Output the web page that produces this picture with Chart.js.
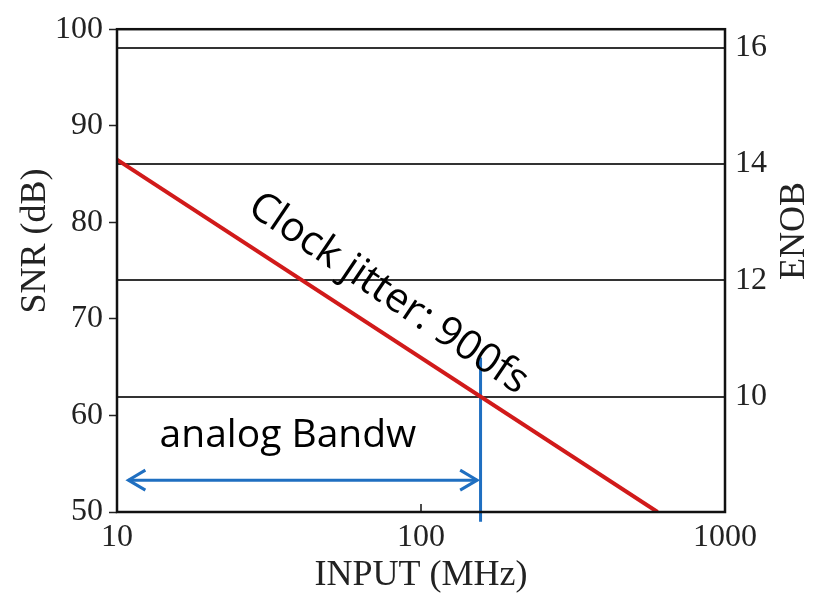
<!DOCTYPE html>
<html>
<head>
<meta charset="utf-8">
<script src="https://cdn.jsdelivr.net/npm/chart.js@4"></script>
<style>
  html, body { margin: 0; padding: 0; background: #fff; }
  #wrap { width: 822px; height: 596px; }
</style>
</head>
<body>
<div id="wrap"><canvas id="jitterChart"></canvas></div>
<script>
// jitter-limited SNR vs input frequency
let inputMHz = [10, 600];
let snrJitter = [86.5, 50];

// analog bandwidth marker
let bwMHz = 157;
let bwSnr = [66, 49];
let arrowMHz = [10.9, 153];
let arrowSnr = 53.3;

// tick labels
let freqTicks = [10, 100, 1000];
let snrTicks = [50, 60, 70, 80, 90, 100];
let enobTicks = [10, 12, 14, 16];

// text annotations (anchored in data units)
let jitterLabel = { text: "Clock jitter: 900fs", x: 78, y: 72.6 };
let bwLabel = { text: "analog Bandw", x: 36.5, y: 57.9 };

// ENOB = (SNR - 1.76) / 6.02
let snrMin = 50, snrMax = 100;
let enobOf = function (snr) { return (snr - 1.76) / 6.02; };

let serif = "'Liberation Serif', 'Times New Roman', serif";
let sans = "'Open Sans', 'Noto Sans', sans-serif";

let extras = {
  id: "extras",
  afterDraw: function (chart) {
    let ctx = chart.ctx;
    let a = chart.chartArea;
    let x = chart.scales.x;
    let y = chart.scales.y;
    ctx.save();

    // frame
    ctx.strokeStyle = "#111";
    ctx.lineWidth = 2.5;
    ctx.strokeRect(a.left, a.top, a.right - a.left, a.bottom - a.top);

    // small inward ticks on the frequency axis
    ctx.lineWidth = 1.5;
    freqTicks.forEach(function (f) {
      let px = x.getPixelForValue(f);
      ctx.beginPath();
      ctx.moveTo(px, a.bottom);
      ctx.lineTo(px, a.bottom - 8);
      ctx.stroke();
    });

    // arrow heads on the bandwidth arrow
    ctx.strokeStyle = "#1f6fc1";
    ctx.lineWidth = 3;
    let ay = y.getPixelForValue(arrowSnr);
    let xl = x.getPixelForValue(arrowMHz[0]);
    let xr = x.getPixelForValue(arrowMHz[1]);
    ctx.beginPath();
    ctx.moveTo(xl + 17, ay - 10);
    ctx.lineTo(xl, ay);
    ctx.lineTo(xl + 17, ay + 10);
    ctx.moveTo(xr - 17, ay - 10);
    ctx.lineTo(xr, ay);
    ctx.lineTo(xr - 17, ay + 10);
    ctx.stroke();

    // annotations
    ctx.fillStyle = "#000";
    ctx.textAlign = "center";
    ctx.textBaseline = "middle";
    ctx.font = "39px " + sans;
    ctx.fillText(bwLabel.text, x.getPixelForValue(bwLabel.x), y.getPixelForValue(bwLabel.y));

    ctx.font = "41px " + sans;
    ctx.save();
    ctx.translate(x.getPixelForValue(jitterLabel.x), y.getPixelForValue(jitterLabel.y));
    ctx.rotate(34 * Math.PI / 180);
    ctx.fillText(jitterLabel.text, 0, 0);
    ctx.restore();

    // vertical axis titles
    ctx.fillStyle = "#222";
    ctx.font = "36px " + serif;
    ctx.save();
    ctx.translate(36, 241);
    ctx.rotate(-Math.PI / 2);
    ctx.fillText("SNR (dB)", 0, 0);
    ctx.restore();

    ctx.save();
    ctx.translate(795, 231);
    ctx.rotate(-Math.PI / 2);
    ctx.fillText("ENOB", 0, 0);
    ctx.restore();

    ctx.restore();
  }
};

let ctx = document.getElementById("jitterChart").getContext("2d");
let myChart = new Chart(ctx, {
  type: "line",
  data: {
    datasets: [
      {
        label: "Clock jitter",
        data: inputMHz.map(function (f, i) { return { x: f, y: snrJitter[i] }; }),
        borderColor: "#d11a1a",
        borderWidth: 4,
        pointRadius: 0,
        tension: 0
      },
      {
        label: "Bandwidth",
        data: bwSnr.map(function (s) { return { x: bwMHz, y: s }; }),
        borderColor: "#1f6fc1",
        borderWidth: 3,
        pointRadius: 0,
        clip: false
      },
      {
        label: "Bandwidth arrow",
        data: arrowMHz.map(function (f) { return { x: f, y: arrowSnr }; }),
        borderColor: "#1f6fc1",
        borderWidth: 3,
        pointRadius: 0
      }
    ]
  },
  options: {
    responsive: true,
    maintainAspectRatio: false,
    animation: false,
    layout: { padding: { top: 28, left: 0, right: 0, bottom: 0 } },
    plugins: {
      legend: { display: false },
      tooltip: { enabled: false }
    },
    scales: {
      x: {
        type: "logarithmic",
        min: 10,
        max: 1000,
        afterBuildTicks: function (scale) {
          scale.ticks = freqTicks.map(function (v) { return { value: v }; });
        },
        afterFit: function (scale) { scale.height = 84; },
        ticks: {
          color: "#222",
          font: { family: serif, size: 32 },
          padding: 6,
          maxRotation: 0,
          autoSkip: false,
          callback: function (v) { return String(v); }
        },
        grid: { display: false, drawTicks: false },
        border: { display: false },
        title: {
          display: true,
          text: "INPUT (MHz)",
          color: "#222",
          font: { family: serif, size: 36, lineHeight: 1.0 },
          padding: { top: 0, bottom: 2 }
        }
      },
      y: {
        position: "left",
        min: snrMin,
        max: snrMax,
        afterBuildTicks: function (scale) {
          scale.ticks = snrTicks.map(function (v) { return { value: v }; });
        },
        afterFit: function (scale) { scale.width = 117; },
        ticks: {
          color: "#222",
          font: { family: serif, size: 32 },
          padding: 6
        },
        grid: {
          drawOnChartArea: false,
          drawTicks: true,
          tickLength: 8,
          tickWidth: 1.5,
          color: "#222"
        },
        border: { display: false }
      },
      y2: {
        position: "right",
        min: enobOf(snrMin),
        max: enobOf(snrMax),
        afterBuildTicks: function (scale) {
          scale.ticks = enobTicks.map(function (v) { return { value: v }; });
        },
        afterFit: function (scale) { scale.width = 97; },
        ticks: {
          color: "#222",
          font: { family: serif, size: 32 },
          padding: 10
        },
        grid: {
          drawOnChartArea: true,
          drawTicks: false,
          color: "#333",
          lineWidth: 2
        },
        border: { display: false }
      }
    }
  },
  plugins: [extras]
});
</script>
</body>
</html>
